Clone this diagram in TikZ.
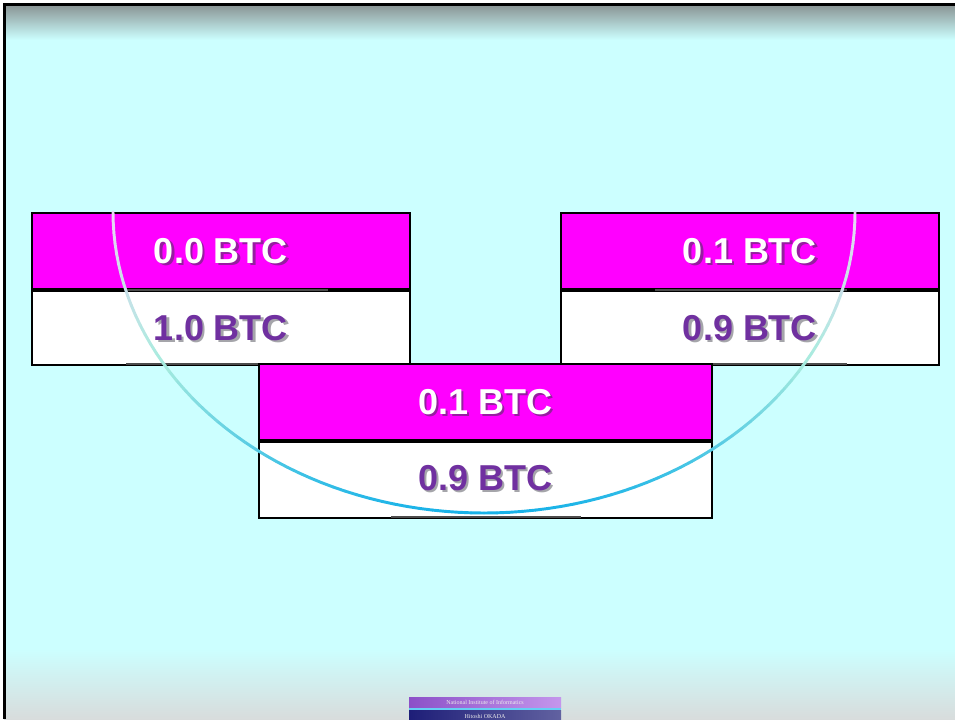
\documentclass[tikz,border=0pt]{standalone}
\usepackage{fontspec}
\setmainfont{Liberation Sans}
\newfontfamily\logofont{Liberation Serif}

\definecolor{slidecyan}{RGB}{204,255,255}
\definecolor{topgray}{RGB}{136,146,146}
\definecolor{botgray}{RGB}{216,220,220}
\definecolor{cellmagenta}{RGB}{255,0,255}
\definecolor{btcpurple}{RGB}{112,48,160}
\definecolor{magshadow}{RGB}{150,30,160}
\definecolor{whiteshadow}{RGB}{165,165,170}
\definecolor{arclav}{RGB}{234,214,244}
\definecolor{arcmint}{RGB}{168,236,222}
\definecolor{arcblue}{RGB}{24,178,232}
\definecolor{logopurple}{RGB}{140,80,200}
\definecolor{logolight}{RGB}{196,150,236}
\definecolor{logonavy}{RGB}{30,30,120}

% text with a soft drop shadow, both in one node
\newcommand\btcshadow[2]{\makebox[0pt][l]{\kern1.6pt\smash{\raisebox{-1.6pt}{\textcolor{#1}{#2}}}}#2}

\tikzset{every picture/.style={line width=0.75pt},
  cellbox/.style={draw=black, line width=1.5pt, rectangle, inner sep=0pt, anchor=north west},
  magcell/.style={cellbox, fill=cellmagenta},
  whitecell/.style={cellbox, fill=white},
  btcfont/.style={font=\bfseries\fontsize{27}{30}\selectfont, inner sep=0pt},
  btclight/.style={btcfont, text=white},
  btcdark/.style={btcfont, text=btcpurple},
  boxedge/.style={draw=black!70, line width=1.5pt}}

\begin{document}
\begin{tikzpicture}[x=0.75pt,y=0.75pt,yscale=-1,xscale=1]
\useasboundingbox (0,0) rectangle (955,719);

%Shape: Slide background
\fill [white] (0,0) rectangle (955,719);
\fill [slidecyan] (4,4) rectangle (955,719);
\shade [top color=topgray, bottom color=slidecyan] (4,4) rectangle (955,40);
\shade [top color=slidecyan, bottom color=botgray] (4,648) rectangle (955,719);
%Straight Lines: slide frame
\draw [line width=2.25pt] (4,719) -- (4,4) -- (955,4);

%Shape: Left pair
\node [magcell, minimum width=283.5pt, minimum height=57pt] (inA) at (31,212) {};
\node [whitecell, minimum width=283.5pt, minimum height=55.5pt] (outA) at (inA.south west) {};
%Shape: Right pair
\node [magcell, minimum width=283.5pt, minimum height=57pt] (inB) at (560,212) {};
\node [whitecell, minimum width=283.5pt, minimum height=55.5pt] (outB) at (inB.south west) {};

%Straight Lines: text box edges
\draw [boxedge] (127,289.5) -- (328,289.5);
\draw [boxedge] (126,364) -- (329,364);
\draw [boxedge] (655,289.5) -- (847,289.5);
\draw [boxedge] (655,364) -- (847,364);

%Shape: Middle pair
\node [magcell, minimum width=339.75pt, minimum height=57pt] (inC) at (258,363) {};
\node [whitecell, minimum width=339.75pt, minimum height=57pt] (outC) at (inC.south west) {};
\draw [boxedge] (391,517) -- (581,517);

% Text Node
\node [btclight] (inAtext) at (inA.center) {\btcshadow{magshadow}{0.0 BTC}};
% Text Node
\node [btcdark] (outAtext) at (outA.center) {\btcshadow{whiteshadow}{1.0 BTC}};
% Text Node
\node [btclight] (inBtext) at (inB.center) {\btcshadow{magshadow}{0.1 BTC}};
% Text Node
\node [btcdark] (outBtext) at (outB.center) {\btcshadow{whiteshadow}{0.9 BTC}};
% Text Node
\node [btclight] (inCtext) at (inC.center) {\btcshadow{magshadow}{0.1 BTC}};
% Text Node
\node [btcdark] (outCtext) at ([yshift=-1.5]outC.center) {\btcshadow{whiteshadow}{0.9 BTC}};

%Curve Lines: half ellipse, shaded along its length
\foreach \t in {0,2,...,178} {
  \pgfmathsetmacro\s{sin(\t+1)}
  \pgfmathsetmacro\pa{min(100,200*\s)}
  \pgfmathsetmacro\pb{max(0,200*\s-100)}
  \draw [line width=2.2pt, line cap=round, color=arcblue!\pb!arcmint!\pa!arclav]
    ({484+371*cos(\t)},{212+301*sin(\t)}) -- ({484+371*cos(\t+2)},{212+301*sin(\t+2)});
}

%Shape: Logo
\shade [left color=logopurple, right color=logolight] (409,697) rectangle (561,708);
\fill [cyan!60] (409,708) rectangle (561,710.5);
\shade [left color=logonavy, right color=logonavy!70!white, middle color=logonavy!85!white] (409,710.5) rectangle (561,719);
% Text Node
\node [inner sep=0pt, text=white!85!gray, font=\logofont\fontsize{4.5}{5}\selectfont] (logotop) at (485,702.5) {National Institute of Informatics};
% Text Node
\node [inner sep=0pt, text=white!85!gray, font=\logofont\fontsize{4.5}{5}\selectfont] (logobot) at (485,716) {Hitoshi OKADA};

\end{tikzpicture}
\end{document}
